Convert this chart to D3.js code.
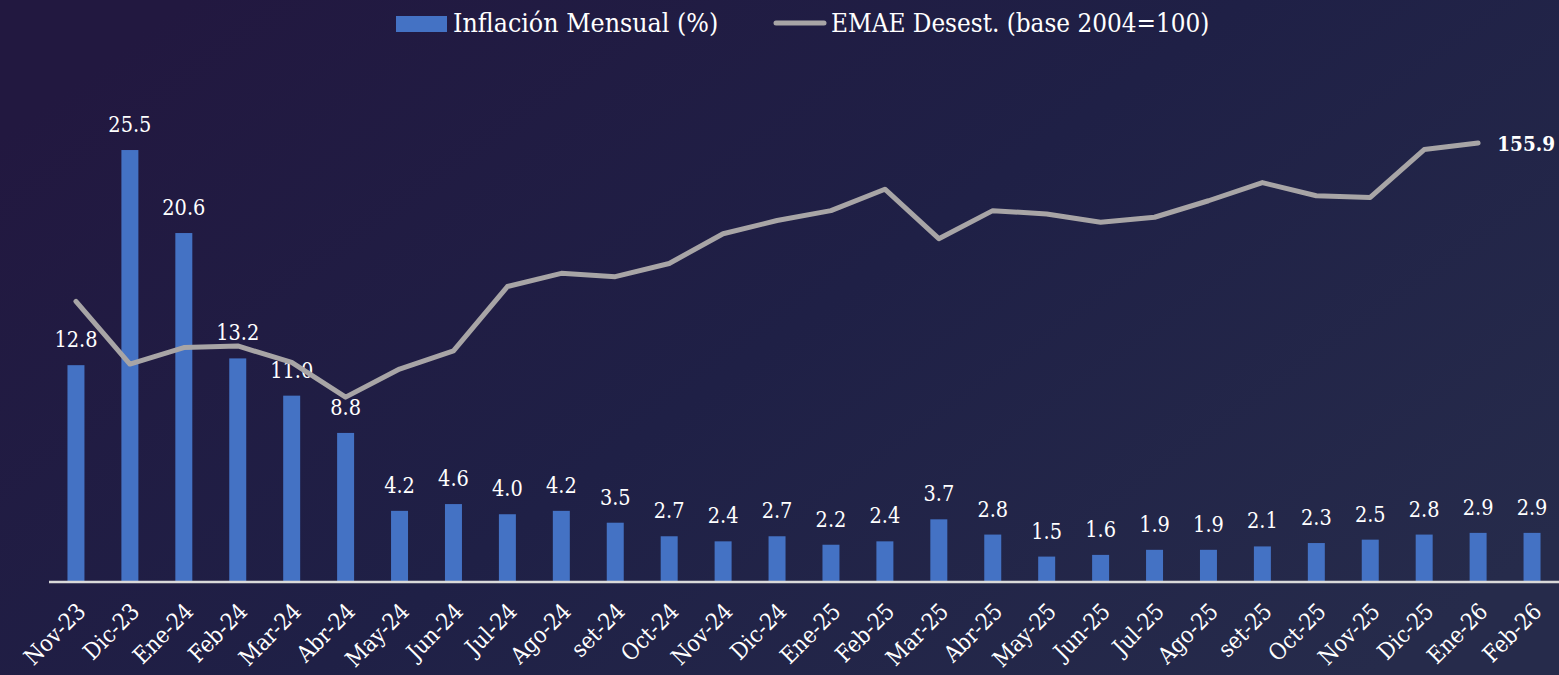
<!DOCTYPE html>
<html>
<head>
<meta charset="utf-8">
<script src="https://cdn.jsdelivr.net/npm/d3@7"></script>
<style>
  html, body { margin: 0; padding: 0; background: #201c42; }
  svg { display: block; }
  text { font-family: "DejaVu Serif Condensed", "DejaVu Serif", serif; fill: #ffffff; }
</style>
</head>
<body>
<svg id="chart"></svg>
<script>
// Months on the x axis
const months = ['Nov-23','Dic-23','Ene-24','Feb-24','Mar-24','Abr-24','May-24','Jun-24','Jul-24','Ago-24',
  'set-24','Oct-24','Nov-24','Dic-24','Ene-25','Feb-25','Mar-25','Abr-25','May-25','Jun-25','Jul-25',
  'Ago-25','set-25','Oct-25','Nov-25','Dic-25','Ene-26','Feb-26'];

// Monthly inflation (%)
const inflacion = [12.8, 25.5, 20.6, 13.2, 11.0, 8.8, 4.2, 4.6, 4.0, 4.2, 3.5, 2.7, 2.4, 2.7, 2.2, 2.4,
  3.7, 2.8, 1.5, 1.6, 1.9, 1.9, 2.1, 2.3, 2.5, 2.8, 2.9, 2.9];

// EMAE seasonally adjusted (base 2004=100), no value for Feb-26 yet
const emae = [146.3, 142.5, 143.5, 143.6, 142.6, 140.5, 142.2, 143.3, 147.2, 148.0, 147.8, 148.6,
  150.4, 151.2, 151.8, 153.1, 150.1, 151.8, 151.6, 151.1, 151.4, 152.4, 153.5, 152.7, 152.6,
  155.5, 155.9, null];

const seriesNames = ['Inflación Mensual (%)', 'EMAE Desest. (base 2004=100)'];

const width = 1559, height = 675;
const barColor = '#4472c4', lineColor = '#a8a5a6';

const svg = d3.select('#chart')
    .attr('width', width)
    .attr('height', height);

// background gradient, purple on the left to slate blue on the right
const defs = svg.append('defs');
const grad = defs.append('linearGradient')
    .attr('id', 'bg')
    .attr('x1', '0%').attr('y1', '20%')
    .attr('x2', '100%').attr('y2', '80%');
grad.append('stop').attr('offset', '0%').attr('stop-color', '#221840');
grad.append('stop').attr('offset', '50%').attr('stop-color', '#1f2046');
grad.append('stop').attr('offset', '100%').attr('stop-color', '#262b4b');

svg.append('rect')
    .attr('width', width)
    .attr('height', height)
    .attr('fill', 'url(#bg)');

// Scales
const xScale = d3.scaleBand()
    .domain(months)
    .range([49, 1559])
    .paddingInner(0.685)
    .paddingOuter(0.3425);

const yBar = d3.scaleLinear()
    .domain([0, 30])
    .range([582, 73.8]);

const yLine = d3.scaleLinear()
    .domain([130, 160])
    .range([570.35, 75.35]);

const cx = d => xScale(d) + xScale.bandwidth() / 2;

// Bars
svg.append('g')
  .selectAll('rect')
  .data(months)
  .join('rect')
    .attr('x', d => xScale(d))
    .attr('width', xScale.bandwidth())
    .attr('y', (d, i) => yBar(inflacion[i]))
    .attr('height', (d, i) => yBar(0) - yBar(inflacion[i]))
    .attr('fill', barColor);

// Bar value labels
svg.append('g')
  .selectAll('text')
  .data(months)
  .join('text')
    .attr('x', cx)
    .attr('y', (d, i) => yBar(inflacion[i]) - 18)
    .attr('text-anchor', 'middle')
    .attr('font-size', 21.5)
    .text((d, i) => inflacion[i].toFixed(1));

// x axis
const xAxis = d3.axisBottom(xScale).tickSize(0).tickPadding(0);
const xAxisG = svg.append('g')
    .attr('transform', `translate(0,${yBar(0)})`)
    .call(xAxis);
xAxisG.select('.domain')
    .attr('d', `M49,0H1559`)
    .attr('stroke', '#d9d9d9')
    .attr('stroke-width', 2.5);
xAxisG.selectAll('.tick text')
    .attr('font-size', 23)
    .attr('font-family', '"DejaVu Serif Condensed", "DejaVu Serif", serif')
    .attr('fill', '#ffffff')
    .attr('text-anchor', 'end')
    .attr('dy', null)
    .attr('transform', 'translate(11,31) rotate(-45)');

// EMAE line
const lineData = months.map((m, i) => ({m, v: emae[i]})).filter(d => d.v != null);
const line = d3.line()
    .x(d => cx(d.m))
    .y(d => yLine(d.v));

svg.append('path')
    .datum(lineData)
    .attr('d', line)
    .attr('fill', 'none')
    .attr('stroke', lineColor)
    .attr('stroke-width', 5)
    .attr('stroke-linejoin', 'round')
    .attr('stroke-linecap', 'round');

// last value label
const last = lineData[lineData.length - 1];
svg.append('text')
    .attr('x', 1555)
    .attr('y', yLine(last.v) + 8)
    .attr('text-anchor', 'end')
    .attr('font-size', 20.5)
    .attr('font-weight', 'bold')
    .text(last.v.toFixed(1));

// Legend
const legend = svg.append('g');
legend.append('rect')
    .attr('x', 396).attr('y', 16)
    .attr('width', 51).attr('height', 16)
    .attr('fill', barColor);
legend.append('text')
    .attr('x', 453).attr('y', 32)
    .attr('font-size', 26.5)
    .text(seriesNames[0]);
legend.append('line')
    .attr('x1', 776).attr('x2', 824)
    .attr('y1', 23).attr('y2', 23)
    .attr('stroke', lineColor)
    .attr('stroke-width', 5)
    .attr('stroke-linecap', 'round');
legend.append('text')
    .attr('x', 831).attr('y', 32)
    .attr('font-size', 25.8)
    .text(seriesNames[1]);
</script>
</body>
</html>
